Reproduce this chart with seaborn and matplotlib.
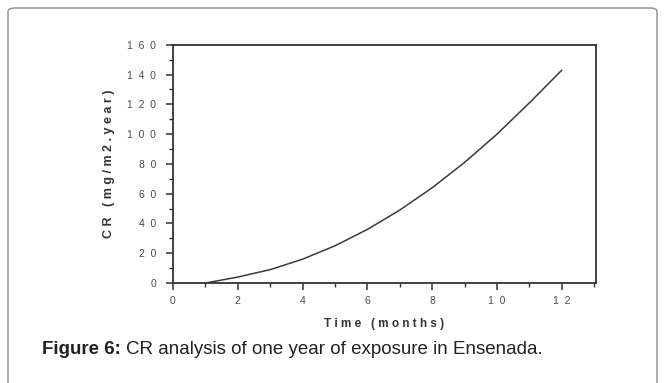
import matplotlib
matplotlib.use('Agg')
import matplotlib.pyplot as plt
from matplotlib.patches import FancyBboxPatch
from matplotlib.ticker import MultipleLocator
import pandas as pd
import seaborn as sns

# Valeurs
months = [1, 2, 3, 4, 5, 6, 7, 8, 9, 10, 11, 12]
cr_values = [0, 4, 9, 16, 25, 36, 49, 64, 81, 100, 121, 143]
x_ticks = [0, 2, 4, 6, 8, 10, 12]
y_ticks = [0, 20, 40, 60, 80, 100, 120, 140, 160]


def spaced(s, sep='  '):
    return sep.join(s)


sns.set_theme(style='white')
plt.rcParams['font.family'] = ['Liberation Sans', 'DejaVu Sans']

df = pd.DataFrame({'month': months, 'cr': cr_values})

fig = plt.figure(figsize=(6.65, 3.83), dpi=100)
ax = fig.add_axes([0.260, 0.261, 0.636, 0.622])

sns.lineplot(data=df, x='month', y='cr', ax=ax, color='#3a3a3a',
             linewidth=1.1)

ax.set_xlim(0, 13.05)
ax.set_ylim(0, 160)
ax.set_xticks(x_ticks)
ax.set_xticklabels([spaced(str(t)) for t in x_ticks])
ax.set_yticks(y_ticks)
ax.set_yticklabels([spaced(str(t)) for t in y_ticks])
ax.xaxis.set_minor_locator(MultipleLocator(1))
ax.yaxis.set_minor_locator(MultipleLocator(10))
ax.tick_params(which='both', direction='out', color='#333333',
               labelsize=7.5, labelcolor='#4a4a5a', bottom=True, left=True)
ax.tick_params(axis='y', which='major', length=5, width=1.1, pad=7)
ax.tick_params(axis='x', which='major', length=5, width=1.1, pad=4)
ax.tick_params(which='minor', length=3, width=1.0)
for side in ['left', 'bottom', 'top', 'right']:
    ax.spines[side].set_color('#333333')
    ax.spines[side].set_linewidth(1.3)

ax.set_xlabel(spaced('Time', ' ') + '   ' + spaced('(months)', ' '),
              fontsize=8.5, fontweight='bold', color='#333333', labelpad=9)
ax.set_ylabel('C R   ' + spaced('(mg/m2.year)', ' '), fontsize=9,
              fontweight='bold', color='#333333', labelpad=9)

# Cadre arrondi autour de la figure
border = FancyBboxPatch((8 / 665, -0.2), 649 / 665, 1.2 - 8 / 383,
                        boxstyle='round,pad=0,rounding_size=0.01',
                        transform=fig.transFigure, fill=False,
                        edgecolor='#8a8a8a', linewidth=1.0, clip_on=False)
fig.patches.append(border)

# Légende de la figure
cap_y = 1 - 350 / 383
t1 = fig.text(42 / 665, cap_y, 'Figure 6:', fontsize=13.5,
              fontweight='bold', color='#222222', va='center')
fig.canvas.draw()
bb = t1.get_window_extent()
fig.text((bb.x1 + 5) / 665, cap_y,
         'CR analysis of one year of exposure in Ensenada.',
         fontsize=13.5, color='#222222', va='center')

fig.savefig('out.png', dpi=100)
